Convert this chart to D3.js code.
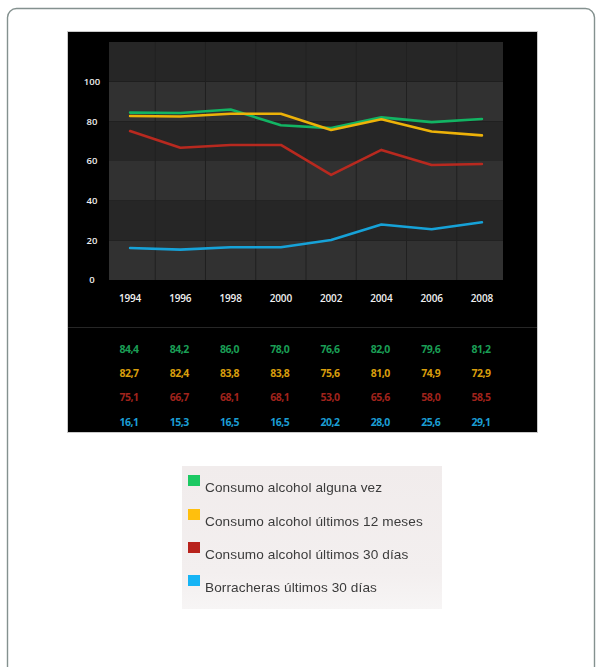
<!DOCTYPE html>
<html>
<head>
<meta charset="utf-8">
<script src="https://cdn.jsdelivr.net/npm/d3@7/dist/d3.min.js"></script>
<style>
  html, body { margin: 0; padding: 0; background: #ffffff; }
  svg { display: block; }
</style>
</head>
<body>
<svg id="chart" width="602" height="667"></svg>
<script>
// Survey years and the four alcohol-use series (percent)
const years = [1994, 1996, 1998, 2000, 2002, 2004, 2006, 2008];
const algunaVez = [84.4, 84.2, 86.0, 78.0, 76.6, 82.0, 79.6, 81.2];
const ultimos12Meses = [82.7, 82.4, 83.8, 83.8, 75.6, 81.0, 74.9, 72.9];
const ultimos30Dias = [75.1, 66.7, 68.1, 68.1, 53.0, 65.6, 58.0, 58.5];
const borracheras30Dias = [16.1, 15.3, 16.5, 16.5, 20.2, 28.0, 25.6, 29.1];
const seriesNames = [
  "Consumo alcohol alguna vez",
  "Consumo alcohol últimos 12 meses",
  "Consumo alcohol últimos 30 días",
  "Borracheras últimos 30 días"
];
const yTicks = [0, 20, 40, 60, 80, 100];

const lineColors = ["#12b463", "#edb208", "#b8291f", "#16a2d8"];
const textColors = ["#1a9e55", "#d89d0c", "#a0231c", "#1b9dd3"];
const swatchColors = ["#1fc964", "#ffbf0f", "#b8231d", "#14b4f5"];

const series = [algunaVez, ultimos12Meses, ultimos30Dias, borracheras30Dias]
  .map((vals, i) => ({ name: seriesNames[i], values: vals, i }));

const svg = d3.select("#chart");

// Outer rounded frame
svg.append("rect")
  .attr("x", 7.5).attr("y", 8.5)
  .attr("width", 587).attr("height", 700)
  .attr("rx", 9)
  .attr("fill", "none")
  .attr("stroke", "#84918f")
  .attr("stroke-width", 1.4);

// Black chart panel
svg.append("rect")
  .attr("x", 67.5).attr("y", 31.5)
  .attr("width", 470).attr("height", 401)
  .attr("fill", "#000")
  .attr("stroke", "#c9c9c9")
  .attr("stroke-width", 1);

const plot = { left: 109, right: 503, top: 42, bottom: 280 };

const x = d3.scalePoint()
  .domain(years)
  .range([plot.left, plot.right])
  .padding(0.42);

const y = d3.scaleLinear()
  .domain([0, 120])
  .range([plot.bottom, plot.top]);

// Alternating horizontal bands
const bandEdges = [0, 20, 40, 60, 80, 100, 120];
const bands = d3.pairs(bandEdges);
svg.append("g").selectAll("rect")
  .data(bands)
  .join("rect")
  .attr("x", plot.left)
  .attr("width", plot.right - plot.left)
  .attr("y", d => y(d[1]))
  .attr("height", d => y(d[0]) - y(d[1]))
  .attr("fill", (d, i) => i % 2 === 0 ? "#313131" : "#262626");

// Faint column separators between years
const step = x.step();
svg.append("g").selectAll("line")
  .data(years.slice(1))
  .join("line")
  .attr("x1", d => x(d) - step / 2)
  .attr("x2", d => x(d) - step / 2)
  .attr("y1", plot.top)
  .attr("y2", plot.bottom)
  .attr("stroke", "#202020")
  .attr("stroke-width", 1);

// Y axis labels
svg.append("g").selectAll("text")
  .data(yTicks)
  .join("text")
  .attr("x", 92)
  .attr("y", d => y(d))
  .attr("dy", "0.35em")
  .attr("text-anchor", "middle")
  .attr("fill", "#f0f0f0")
  .style("font-family", "'Open Sans', sans-serif")
  .style("font-weight", 600)
  .style("font-size", "9.5px")
  .text(d => d);

// X axis labels
svg.append("g").selectAll("text")
  .data(years)
  .join("text")
  .attr("x", d => x(d))
  .attr("y", 298)
  .attr("dy", "0.35em")
  .attr("text-anchor", "middle")
  .attr("fill", "#f0f0f0")
  .style("font-family", "'Open Sans', sans-serif")
  .style("font-weight", 600)
  .style("font-size", "10px")
  .style("letter-spacing", "-0.2px")
  .text(d => d);

// Series lines
const line = d3.line()
  .x((d, i) => x(years[i]))
  .y(d => y(d));

svg.append("g").selectAll("path")
  .data(series)
  .join("path")
  .attr("d", d => line(d.values))
  .attr("fill", "none")
  .attr("stroke", d => lineColors[d.i])
  .attr("stroke-width", 2.6)
  .attr("stroke-linejoin", "round")
  .attr("stroke-linecap", "round");

// Separator above the data table
svg.append("line")
  .attr("x1", 68).attr("x2", 537)
  .attr("y1", 327.5).attr("y2", 327.5)
  .attr("stroke", "#262626")
  .attr("stroke-width", 1);

// Data table beneath the chart
const fmt = v => d3.format(".1f")(v).replace(".", ",");
const rowY = [349, 373, 397, 422];
const table = svg.append("g");
series.forEach(s => {
  table.append("g").selectAll("text")
    .data(s.values)
    .join("text")
    .attr("x", (d, i) => x(years[i]) - 1)
    .attr("y", rowY[s.i])
    .attr("dy", "0.35em")
    .attr("text-anchor", "middle")
    .attr("fill", textColors[s.i])
    .style("font-family", "'Open Sans', sans-serif")
    .style("font-weight", 700)
    .style("font-size", "10.5px")
    .style("letter-spacing", "-0.5px")
    .text(d => fmt(d));
});

// Legend
const defs = svg.append("defs");
const grad = defs.append("linearGradient")
  .attr("id", "legendBg")
  .attr("x1", "0").attr("y1", "0").attr("x2", "0").attr("y2", "1");
grad.append("stop").attr("offset", "0%").attr("stop-color", "#f1ecec");
grad.append("stop").attr("offset", "75%").attr("stop-color", "#f3efef");
grad.append("stop").attr("offset", "100%").attr("stop-color", "#f7f5f5");

const blur = defs.append("filter").attr("id", "soft");
blur.append("feGaussianBlur").attr("stdDeviation", 0.35);

svg.append("rect")
  .attr("x", 182).attr("y", 466)
  .attr("width", 260).attr("height", 143)
  .attr("fill", "url(#legendBg)");

const legendRowY = [475, 509, 542, 575];
const legend = svg.append("g").attr("filter", "url(#soft)");
legend.selectAll("rect")
  .data(series)
  .join("rect")
  .attr("x", 188)
  .attr("y", d => legendRowY[d.i])
  .attr("width", 12)
  .attr("height", 11)
  .attr("fill", d => swatchColors[d.i]);

legend.selectAll("text")
  .data(series)
  .join("text")
  .attr("x", 205)
  .attr("y", d => legendRowY[d.i] + 17)
  .attr("fill", "#3b3b3b")
  .style("font-family", "'Liberation Sans', Arial, sans-serif")
  .style("font-size", "13.6px")
  .style("letter-spacing", "0.1px")
  .text(d => d.name);
</script>
</body>
</html>
